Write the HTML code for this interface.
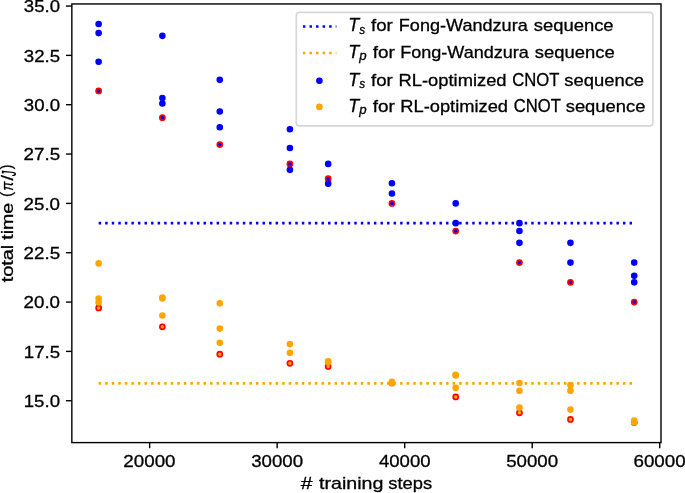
<!DOCTYPE html>
<html lang="en"><head><meta charset="utf-8"><title>Total time vs training steps</title>
<style>html,body{margin:0;padding:0;background:#fff;}body{width:685px;height:493px;overflow:hidden;}svg{display:block;will-change:transform;}text{font-family:"Liberation Sans",sans-serif;fill:#000;stroke:#000;stroke-width:0.3px;}</style>
</head><body>
<svg width="685" height="493" viewBox="0 0 685 493">
<rect x="0" y="0" width="685" height="493" fill="#ffffff"/>
<g stroke="#ff0000" stroke-width="1.65">
<circle cx="98.63" cy="90.90" r="2.55" fill="#0000ff"/>
<circle cx="162.39" cy="117.74" r="2.55" fill="#0000ff"/>
<circle cx="219.78" cy="144.58" r="2.55" fill="#0000ff"/>
<circle cx="289.91" cy="163.92" r="2.55" fill="#0000ff"/>
<circle cx="328.17" cy="178.72" r="2.55" fill="#0000ff"/>
<circle cx="391.93" cy="203.39" r="2.55" fill="#0000ff"/>
<circle cx="455.69" cy="231.02" r="2.55" fill="#0000ff"/>
<circle cx="519.45" cy="262.60" r="2.55" fill="#0000ff"/>
<circle cx="570.46" cy="282.33" r="2.55" fill="#0000ff"/>
<circle cx="634.22" cy="302.07" r="2.55" fill="#0000ff"/>
<circle cx="98.63" cy="307.99" r="2.55" fill="#ffa500"/>
<circle cx="162.39" cy="326.83" r="2.55" fill="#ffa500"/>
<circle cx="219.78" cy="354.17" r="2.55" fill="#ffa500"/>
<circle cx="289.91" cy="363.25" r="2.55" fill="#ffa500"/>
<circle cx="328.17" cy="366.40" r="2.55" fill="#ffa500"/>
<circle cx="391.93" cy="382.98" r="2.55" fill="#ffa500"/>
<circle cx="455.69" cy="396.99" r="2.55" fill="#ffa500"/>
<circle cx="519.45" cy="412.78" r="2.55" fill="#ffa500"/>
<circle cx="570.46" cy="419.49" r="2.55" fill="#ffa500"/>
<circle cx="634.22" cy="422.55" r="2.55" fill="#ffa500"/>
</g>
<g fill="#0000ff" stroke="#0000ff" stroke-width="1.40">
<circle cx="98.63" cy="24.00" r="2.60"/>
<circle cx="98.63" cy="33.08" r="2.60"/>
<circle cx="98.63" cy="61.69" r="2.60"/>
<circle cx="162.39" cy="35.84" r="2.60"/>
<circle cx="162.39" cy="98.01" r="2.60"/>
<circle cx="162.39" cy="103.53" r="2.60"/>
<circle cx="219.78" cy="79.85" r="2.60"/>
<circle cx="219.78" cy="111.43" r="2.60"/>
<circle cx="219.78" cy="127.21" r="2.60"/>
<circle cx="289.91" cy="129.19" r="2.60"/>
<circle cx="289.91" cy="147.94" r="2.60"/>
<circle cx="289.91" cy="169.84" r="2.60"/>
<circle cx="328.17" cy="163.92" r="2.60"/>
<circle cx="328.17" cy="183.66" r="2.60"/>
<circle cx="391.93" cy="183.26" r="2.60"/>
<circle cx="391.93" cy="193.52" r="2.60"/>
<circle cx="455.69" cy="203.39" r="2.60"/>
<circle cx="455.69" cy="223.13" r="2.60"/>
<circle cx="519.45" cy="223.13" r="2.60"/>
<circle cx="519.45" cy="231.02" r="2.60"/>
<circle cx="519.45" cy="242.86" r="2.60"/>
<circle cx="570.46" cy="242.86" r="2.60"/>
<circle cx="570.46" cy="262.60" r="2.60"/>
<circle cx="634.22" cy="262.60" r="2.60"/>
<circle cx="634.22" cy="275.82" r="2.60"/>
<circle cx="634.22" cy="282.33" r="2.60"/>
</g>
<g fill="#ffa500" stroke="#ffa500" stroke-width="1.40">
<circle cx="98.63" cy="263.39" r="2.60"/>
<circle cx="98.63" cy="298.51" r="2.60"/>
<circle cx="98.63" cy="302.46" r="2.60"/>
<circle cx="162.39" cy="297.53" r="2.60"/>
<circle cx="162.39" cy="298.51" r="2.60"/>
<circle cx="162.39" cy="315.49" r="2.60"/>
<circle cx="219.78" cy="303.35" r="2.60"/>
<circle cx="219.78" cy="328.61" r="2.60"/>
<circle cx="219.78" cy="342.72" r="2.60"/>
<circle cx="289.91" cy="344.10" r="2.60"/>
<circle cx="289.91" cy="352.79" r="2.60"/>
<circle cx="328.17" cy="361.27" r="2.60"/>
<circle cx="328.17" cy="362.26" r="2.60"/>
<circle cx="391.93" cy="381.80" r="2.60"/>
<circle cx="391.93" cy="382.98" r="2.60"/>
<circle cx="455.69" cy="374.69" r="2.60"/>
<circle cx="455.69" cy="375.38" r="2.60"/>
<circle cx="455.69" cy="387.91" r="2.60"/>
<circle cx="519.45" cy="382.98" r="2.60"/>
<circle cx="519.45" cy="390.68" r="2.60"/>
<circle cx="519.45" cy="407.65" r="2.60"/>
<circle cx="570.46" cy="385.15" r="2.60"/>
<circle cx="570.46" cy="390.68" r="2.60"/>
<circle cx="570.46" cy="409.62" r="2.60"/>
<circle cx="634.22" cy="420.67" r="2.60"/>
<circle cx="634.22" cy="422.45" r="2.60"/>
</g>
<g fill="none" stroke-width="2.650" stroke-dasharray="2.4750 4.0795">
<line x1="98.63" y1="223.10" x2="634.22" y2="223.10" stroke="#0000ff"/>
<line x1="98.63" y1="383.40" x2="634.22" y2="383.40" stroke="#ffa500"/>
</g>
<g stroke="#000" stroke-width="1.4" fill="none">
<rect x="71.85" y="3.95" width="589.15" height="438.65"/>
<line x1="149.64" y1="442.60" x2="149.64" y2="448.20"/>
<line x1="277.16" y1="442.60" x2="277.16" y2="448.20"/>
<line x1="404.68" y1="442.60" x2="404.68" y2="448.20"/>
<line x1="532.20" y1="442.60" x2="532.20" y2="448.20"/>
<line x1="659.72" y1="442.60" x2="659.72" y2="448.20"/>
<line x1="65.95" y1="400.74" x2="71.85" y2="400.74"/>
<line x1="65.95" y1="351.40" x2="71.85" y2="351.40"/>
<line x1="65.95" y1="302.07" x2="71.85" y2="302.07"/>
<line x1="65.95" y1="252.73" x2="71.85" y2="252.73"/>
<line x1="65.95" y1="203.39" x2="71.85" y2="203.39"/>
<line x1="65.95" y1="154.05" x2="71.85" y2="154.05"/>
<line x1="65.95" y1="104.72" x2="71.85" y2="104.72"/>
<line x1="65.95" y1="55.38" x2="71.85" y2="55.38"/>
<line x1="65.95" y1="6.04" x2="71.85" y2="6.04"/>
</g>
<text x="123.39" y="466.75" font-size="17.00" textLength="52.18" lengthAdjust="spacingAndGlyphs">20000</text>
<text x="251.15" y="466.75" font-size="17.00" textLength="51.94" lengthAdjust="spacingAndGlyphs">30000</text>
<text x="378.96" y="466.75" font-size="17.00" textLength="51.65" lengthAdjust="spacingAndGlyphs">40000</text>
<text x="506.15" y="466.75" font-size="17.00" textLength="51.98" lengthAdjust="spacingAndGlyphs">50000</text>
<text x="633.47" y="466.75" font-size="17.00" textLength="52.19" lengthAdjust="spacingAndGlyphs">60000</text>
<text x="23.78" y="406.94" font-size="17.00" textLength="36.25" lengthAdjust="spacingAndGlyphs">15.0</text>
<text x="23.78" y="357.60" font-size="17.00" textLength="36.30" lengthAdjust="spacingAndGlyphs">17.5</text>
<text x="23.56" y="308.27" font-size="17.00" textLength="36.47" lengthAdjust="spacingAndGlyphs">20.0</text>
<text x="23.56" y="258.93" font-size="17.00" textLength="36.53" lengthAdjust="spacingAndGlyphs">22.5</text>
<text x="23.56" y="209.59" font-size="17.00" textLength="36.47" lengthAdjust="spacingAndGlyphs">25.0</text>
<text x="23.56" y="160.25" font-size="17.00" textLength="36.53" lengthAdjust="spacingAndGlyphs">27.5</text>
<text x="23.79" y="110.92" font-size="17.00" textLength="36.24" lengthAdjust="spacingAndGlyphs">30.0</text>
<text x="23.79" y="61.58" font-size="17.00" textLength="36.29" lengthAdjust="spacingAndGlyphs">32.5</text>
<text x="23.79" y="12.24" font-size="17.00" textLength="36.24" lengthAdjust="spacingAndGlyphs">35.0</text>
<text x="300.81" y="489.20" font-size="17.00" textLength="11.70" lengthAdjust="spacingAndGlyphs">#</text>
<text x="319.00" y="489.20" font-size="17.00" textLength="64.46" lengthAdjust="spacingAndGlyphs">training</text>
<text x="388.29" y="489.20" font-size="17.00" textLength="43.87" lengthAdjust="spacingAndGlyphs">steps</text>
<g transform="translate(13.4,282.0) rotate(-90)">
<text x="-0.30" y="0.00" font-size="17.00" textLength="37.53" lengthAdjust="spacingAndGlyphs">total</text>
<text x="42.30" y="0.00" font-size="17.00" textLength="36.86" lengthAdjust="spacingAndGlyphs">time</text>
<text x="85.04" y="-1.00" font-size="17.00" textLength="5.15" lengthAdjust="spacingAndGlyphs">(</text>
<text x="91.30" y="0.00" font-size="17.00" font-style="italic" textLength="9.10" lengthAdjust="spacingAndGlyphs">π</text>
<text x="101.60" y="-0.60" font-size="17.00" textLength="5.40" lengthAdjust="spacingAndGlyphs">/</text>
<text x="106.02" y="2.20" font-size="19.50" font-style="italic" textLength="5.10" lengthAdjust="spacingAndGlyphs">J</text>
<text x="112.82" y="-1.00" font-size="17.00" textLength="4.65" lengthAdjust="spacingAndGlyphs">)</text>
</g>
<rect x="296.3" y="12.4" width="356.6" height="113.5" rx="3.2" ry="3.2" fill="#ffffff" stroke="#d5d7d9" stroke-width="1.6"/>
<g fill="none" stroke-width="2.650" stroke-dasharray="2.4750 4.0795">
<line x1="302.95" y1="26.5" x2="336.4" y2="26.5" stroke="#0000ff"/>
<line x1="302.95" y1="53.0" x2="336.4" y2="53.0" stroke="#ffa500"/>
</g>
<circle cx="319.4" cy="80.7" r="2.60" fill="#0000ff" stroke="#0000ff" stroke-width="1.40"/>
<circle cx="319.4" cy="106.9" r="2.60" fill="#ffa500" stroke="#ffa500" stroke-width="1.40"/>
<text x="348.29" y="31.30" font-size="17.60" font-style="italic" textLength="10.95" lengthAdjust="spacingAndGlyphs">T</text>
<text x="359.37" y="33.90" font-size="12.60" font-style="italic" textLength="5.87" lengthAdjust="spacingAndGlyphs">s</text>
<text x="371.04" y="31.30" font-size="17.00" textLength="21.77" lengthAdjust="spacingAndGlyphs">for</text>
<text x="398.83" y="31.30" font-size="17.00" textLength="128.87" lengthAdjust="spacingAndGlyphs">Fong-Wandzura</text>
<text x="533.69" y="31.30" font-size="17.00" textLength="79.93" lengthAdjust="spacingAndGlyphs">sequence</text>
<text x="348.29" y="57.60" font-size="17.60" font-style="italic" textLength="10.95" lengthAdjust="spacingAndGlyphs">T</text>
<text x="359.23" y="60.20" font-size="12.60" font-style="italic" textLength="7.40" lengthAdjust="spacingAndGlyphs">p</text>
<text x="372.73" y="57.60" font-size="17.00" textLength="22.08" lengthAdjust="spacingAndGlyphs">for</text>
<text x="400.23" y="57.60" font-size="17.00" textLength="128.67" lengthAdjust="spacingAndGlyphs">Fong-Wandzura</text>
<text x="534.89" y="57.60" font-size="17.00" textLength="79.93" lengthAdjust="spacingAndGlyphs">sequence</text>
<text x="348.29" y="85.50" font-size="17.60" font-style="italic" textLength="10.95" lengthAdjust="spacingAndGlyphs">T</text>
<text x="359.37" y="88.10" font-size="12.60" font-style="italic" textLength="5.87" lengthAdjust="spacingAndGlyphs">s</text>
<text x="371.04" y="85.50" font-size="17.00" textLength="21.77" lengthAdjust="spacingAndGlyphs">for</text>
<text x="398.49" y="85.50" font-size="17.00" textLength="108.09" lengthAdjust="spacingAndGlyphs">RL-optimized</text>
<text x="512.15" y="85.50" font-size="17.70" textLength="47.23" lengthAdjust="spacingAndGlyphs">CNOT</text>
<text x="564.24" y="85.50" font-size="17.00" textLength="79.88" lengthAdjust="spacingAndGlyphs">sequence</text>
<text x="348.29" y="111.70" font-size="17.60" font-style="italic" textLength="10.95" lengthAdjust="spacingAndGlyphs">T</text>
<text x="359.23" y="114.30" font-size="12.60" font-style="italic" textLength="7.40" lengthAdjust="spacingAndGlyphs">p</text>
<text x="372.73" y="111.70" font-size="17.00" textLength="22.08" lengthAdjust="spacingAndGlyphs">for</text>
<text x="400.30" y="111.70" font-size="17.00" textLength="107.68" lengthAdjust="spacingAndGlyphs">RL-optimized</text>
<text x="513.76" y="111.70" font-size="17.70" textLength="47.02" lengthAdjust="spacingAndGlyphs">CNOT</text>
<text x="565.69" y="111.70" font-size="17.00" textLength="79.73" lengthAdjust="spacingAndGlyphs">sequence</text>
</svg>
</body></html>
